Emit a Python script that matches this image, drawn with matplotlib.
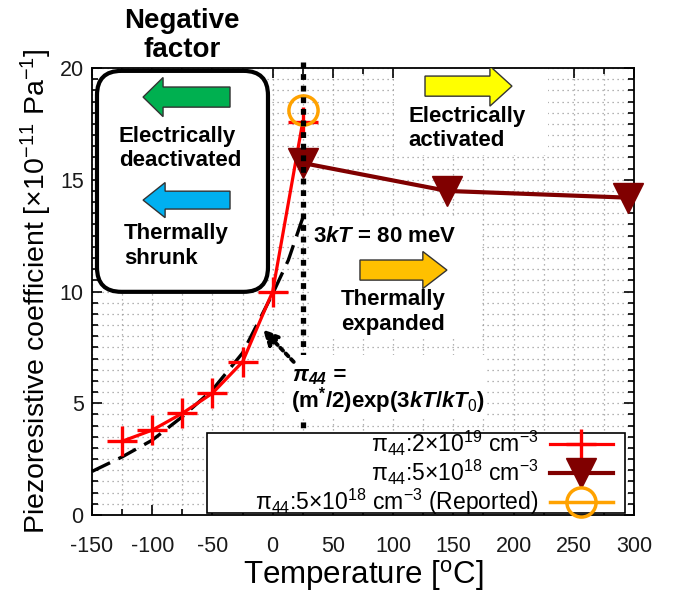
import matplotlib
matplotlib.use("Agg")
import matplotlib.pyplot as plt
from matplotlib.patches import FancyArrow, FancyBboxPatch, Rectangle
from matplotlib.ticker import MultipleLocator

plt.rcParams['font.family'] = ['Liberation Sans', 'DejaVu Sans']
plt.rcParams['mathtext.fontset'] = 'custom'
plt.rcParams['mathtext.rm'] = 'Liberation Sans'
plt.rcParams['mathtext.it'] = 'Liberation Sans:italic:bold'
plt.rcParams['mathtext.bf'] = 'Liberation Sans:bold'
plt.rcParams['mathtext.default'] = 'regular'
plt.rcParams['axes.unicode_minus'] = False

# data
temp_2e19 = [-125, -100, -75, -50, -25, 0, 25]
pi_2e19 = [3.3, 3.8, 4.55, 5.45, 6.85, 10.0, 17.6]

temp_5e18 = [25, 145, 295]
pi_5e18 = [15.75, 14.5, 14.2]

temp_rep = [25]
pi_rep = [18.1]

# dashed model curve pi44 = (m*/2)exp(3kT/kT0)
temp_fit = [-150, -125, -100, -75, -50, -25, 0, 13, 25]
pi_fit = [1.95, 2.6, 3.35, 4.4, 5.6, 7.25, 9.9, 11.4, 13.3]

# 3kT = 80 meV marker
t_80mev = 25

labels = [r'π$_{44}$:2×10$^{19}$ cm$^{-3}$',
          r'π$_{44}$:5×10$^{18}$ cm$^{-3}$',
          r'π$_{44}$:5×10$^{18}$ cm$^{-3}$ (Reported)']

fig = plt.figure(figsize=(6.73, 6.03), dpi=100)
ax = fig.add_axes([0.1367, 0.1459, 0.8053, 0.7413])

ax.set_xlim(-150, 300)
ax.set_ylim(0, 20)
ax.xaxis.set_major_locator(MultipleLocator(50))
ax.xaxis.set_minor_locator(MultipleLocator(25))
ax.yaxis.set_major_locator(MultipleLocator(5))
ax.yaxis.set_minor_locator(MultipleLocator(0.5))
ax.tick_params(which='both', direction='in', top=True, right=True,
               labelsize=15.5, labelcolor='#1a1a1a', width=1.2)
ax.tick_params(which='major', length=7)
ax.tick_params(which='minor', length=4)
ax.tick_params(axis='x', pad=15)
ax.tick_params(axis='y', pad=6)
ax.grid(which='both', color='#9a9a9a', linestyle=(0, (1, 3)), linewidth=0.9)
ax.set_axisbelow(True)
for s in ax.spines.values():
    s.set_linewidth(1.3)

ax.set_xlabel(r'Temperature [$^{o}$C]', fontsize=22.5, labelpad=1)
ax.set_ylabel(r'Piezoresistive coefficient [×10$^{-11}$ Pa$^{-1}$]',
              fontsize=20.5, labelpad=4)

# white backing of pasted annotation blocks
for (x0, y0, x1, y1, z) in [(101, 16.1, 229, 20, 1), (31, 7.9, 171, 13.3, 1),
                            (10, 4.35, 176, 7.15, 6.5)]:
    ax.add_patch(Rectangle((x0, y0), x1 - x0, y1 - y0, facecolor='white',
                           edgecolor='none', zorder=z))

# series
ax.plot(temp_fit, pi_fit, color='black', lw=2.4, dashes=(6, 2.8),
        zorder=3, clip_on=False)
l1, = ax.plot(temp_2e19, pi_2e19, color='#ff0000', lw=2.3, marker='+',
              ms=22, mew=2.4, zorder=4, label=labels[0])
l2, = ax.plot(temp_5e18, pi_5e18, color='#800000', lw=3, marker='v',
              ms=22, zorder=4, label=labels[1], clip_on=False)
l3, = ax.plot(temp_rep, pi_rep, color='#ffa200', lw=2.5, marker='o',
              ms=21, mfc='none', mew=2.5, zorder=4, label=labels[2])

ax.plot([t_80mev, t_80mev], [20.25, 3.85], color='black', lw=3.8,
        dashes=(1.1, 1.1), dash_capstyle='butt', zorder=6, clip_on=False)

# rounded box for negative factor
ax.add_patch(FancyBboxPatch((0.0092, 0.4993), 0.3155, 0.4943,
                            boxstyle='round,pad=0,rounding_size=0.045',
                            mutation_aspect=542 / 447, transform=ax.transAxes,
                            facecolor='white', edgecolor='black', lw=3,
                            zorder=5))
ax.text(-75.3, 21.45, 'Negative\nfactor', fontsize=20, fontweight='bold',
        ha='center', va='center', linespacing=1.15, zorder=7, clip_on=False)

arrow_kw = dict(length_includes_head=True, lw=1, edgecolor='#333333', zorder=6)
ax.add_patch(FancyArrow(-35.4, 18.70, -72.2, 0, width=0.9, head_width=1.75,
                        head_length=16.6, facecolor='#00b050', **arrow_kw))
ax.add_patch(FancyArrow(-35.4, 14.09, -72.2, 0, width=0.8, head_width=1.57,
                        head_length=18.3, facecolor='#00b0f0', **arrow_kw))
ax.add_patch(FancyArrow(126.5, 19.19, 72.2, 0, width=0.9, head_width=1.79,
                        head_length=18.3, facecolor='#ffff00', **arrow_kw))
ax.add_patch(FancyArrow(72.5, 10.96, 72.2, 0, width=0.9, head_width=1.66,
                        head_length=20, facecolor='#ffc000', **arrow_kw))

txt_kw = dict(fontsize=16, fontweight='bold', va='center', linespacing=1.2,
              zorder=7)
ax.text(-127.6, 16.40, 'Electrically\ndeactivated', ha='left', **txt_kw)
ax.text(-123.4, 12.04, 'Thermally\nshrunk', ha='left', **txt_kw)
ax.text(112.4, 17.29, 'Electrically\nactivated', ha='left', **txt_kw)
ax.text(99.9, 9.08, 'Thermally\nexpanded', ha='center', **txt_kw)
ax.text(33.5, 12.44, r'3$\mathit{kT}$ = 80 meV', ha='left', **txt_kw)
ax.text(16.0, 6.2, r'π$_{44}$ =', ha='left', fontsize=16, fontweight='bold',
        fontstyle='italic', va='center', zorder=7)
ax.text(15.5, 5.1, r'(m$^{*}$/2)exp(3$\mathit{kT}$/$\mathit{kT_{0}}$)',
        ha='left', **txt_kw)

ax.annotate('', xy=(-8, 8.3), xytext=(17.5, 6.85),
            arrowprops=dict(arrowstyle='-|>', color='black', lw=2.8,
                            linestyle=(0, (1, 1)), mutation_scale=22,
                            shrinkA=0, shrinkB=0), zorder=7)

# legend with a fixed frame
ax.add_patch(Rectangle((0.2122, 0.0045), 0.7712, 0.1789, transform=ax.transAxes,
                       facecolor='white', edgecolor='black', lw=1.2, zorder=8))
leg = ax.legend(handles=[l1, l2, l3], loc='center right',
                bbox_to_anchor=(0.961, 0.094), fontsize=16.5, markerfirst=False,
                handlelength=2.75, handletextpad=0.5, labelspacing=0.0,
                borderpad=0, borderaxespad=0, frameon=False)
leg.set_zorder(9)

fig.savefig('out.png', dpi=100)
